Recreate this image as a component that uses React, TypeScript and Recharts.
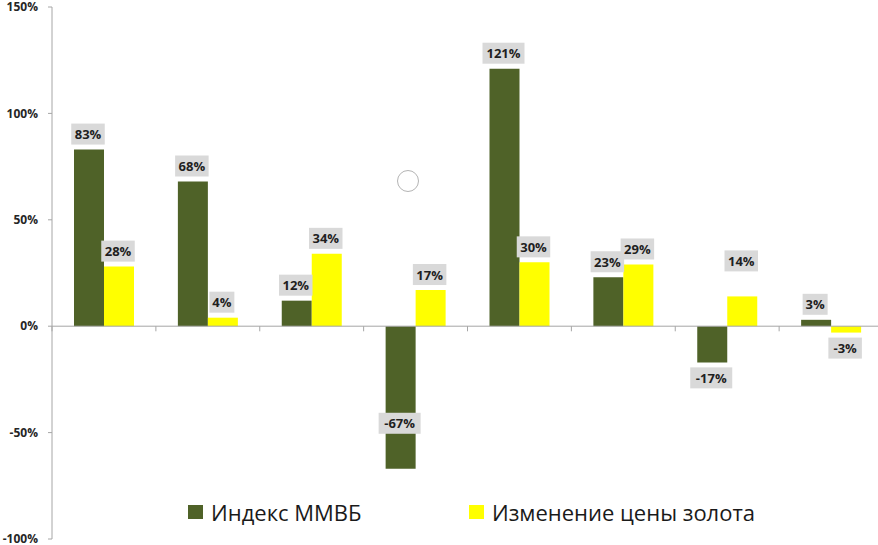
import { BarChart, Bar, XAxis, YAxis, ReferenceLine, Legend } from 'recharts';

// periods are not labelled in the picture
const periods = ['Период 1', 'Период 2', 'Период 3', 'Период 4', 'Период 5', 'Период 6', 'Период 7', 'Период 8'];
const micexValues = [83, 68, 12, -67, 121, 23, -17, 3];
const goldValues = [28, 4, 34, 17, 30, 29, 14, -3];
const yTicks = [-100, -50, 0, 50, 100, 150];

const seriesKeys = ['micex', 'gold'];
const seriesNames = {
    micex: 'Индекс ММВБ',
    gold: 'Изменение цены золота',
};

const data = periods.map((period, i) => ({
    period,
    micex: micexValues[i],
    gold: goldValues[i],
}));

const AXIS = '#a6a6a6';
const FONT = '"Open Sans", "DejaVu Sans", sans-serif';

// labels that were moved by hand in the original
const labelTweaks: Record<string, string> = {
    'micex-3': 'inside',
    'gold-6': 'raise',
};

const makeLabel = (key: string) => (props: any) => {
    const vb = props.viewBox ?? props;
    const { x, y, width, height } = vb;
    const value = props.value;
    const top = Math.min(y, y + height);
    const bottom = Math.max(y, y + height);
    const text = `${value}%`;
    const w = text.length * 8.5 + 8;
    const h = 21;
    const cx = x + width / 2 - 1;
    let boxY = value >= 0 ? top - 5 - h : bottom + 5;
    const tweak = labelTweaks[`${key}-${props.index}`];
    if (tweak === 'inside') boxY = bottom - 35 - h;
    if (tweak === 'raise') boxY -= 20;
    return (
        <g>
            <rect x={cx - w / 2} y={boxY} width={w} height={h} fill="#d9d9d9" />
            <text
                x={cx}
                y={boxY + h / 2}
                textAnchor="middle"
                dominantBaseline="central"
                fontFamily={FONT}
                fontWeight={700}
                fontSize={13}
                fill="#1f1f1f"
            >
                {text}
            </text>
        </g>
    );
};

const LegendContent = ({ payload }: any) => {
    const items = [...(payload ?? [])].sort(
        (a: any, b: any) => seriesKeys.indexOf(a.dataKey) - seriesKeys.indexOf(b.dataKey)
    );
    return (
        <div style={{ display: 'flex', fontFamily: FONT, fontSize: 22, color: '#1a1a1a', whiteSpace: 'nowrap' }}>
            {items.map((item: any, i: number) => (
                <div key={i} style={{ display: 'flex', alignItems: 'center', flexShrink: 0, width: i === 0 ? 281 : 320 }}>
                    <span style={{ display: 'inline-block', width: 15, height: 14, background: item.color, marginRight: 8 }} />
                    <span style={{ lineHeight: '28px' }}>{item.value}</span>
                </div>
            ))}
        </div>
    );
};

export default function App() {
    return (
        <div style={{ position: 'absolute', left: 0, top: 0, width: 878, height: 545, overflow: 'hidden', background: '#fff' }}>
            <BarChart
                width={892}
                height={545}
                data={data}
                margin={{ top: 7, right: 9, bottom: 6, left: 0 }}
                barGap={0}
                barSize={30}
            >
                <XAxis dataKey="period" hide />
                <YAxis
                    width={52}
                    domain={[-100, 150]}
                    ticks={yTicks}
                    interval={0}
                    tickFormatter={(v) => `${v}%`}
                    stroke={AXIS}
                    tickSize={4}
                    tickMargin={10}
                    tick={{ fill: '#262626', fontSize: 12, fontWeight: 700, fontFamily: FONT }}
                />
                <ReferenceLine y={0} stroke={AXIS} />
                {periods.map((p) => (
                    <ReferenceLine
                        key={p}
                        segment={[{ x: p, y: 0 }, { x: p, y: -2.4 }]}
                        position="start"
                        stroke={AXIS}
                    />
                ))}
                <Legend
                    layout="horizontal"
                    verticalAlign="middle"
                    align="center"
                    itemSorter={null}
                    content={<LegendContent />}
                    wrapperStyle={{ position: 'absolute', left: 188, top: 498, width: 620 }}
                />
                <Bar dataKey="micex" name={seriesNames.micex} fill="#4f6228" isAnimationActive={false} label={makeLabel('micex')} />
                <Bar dataKey="gold" name={seriesNames.gold} fill="#ffff00" isAnimationActive={false} label={makeLabel('gold')} />
            </BarChart>
            <div
                style={{
                    position: 'absolute',
                    left: 397,
                    top: 170,
                    width: 22,
                    height: 22,
                    boxSizing: 'border-box',
                    border: '1px solid #b4b4b4',
                    borderRadius: '50%',
                }}
            />
        </div>
    );
}
